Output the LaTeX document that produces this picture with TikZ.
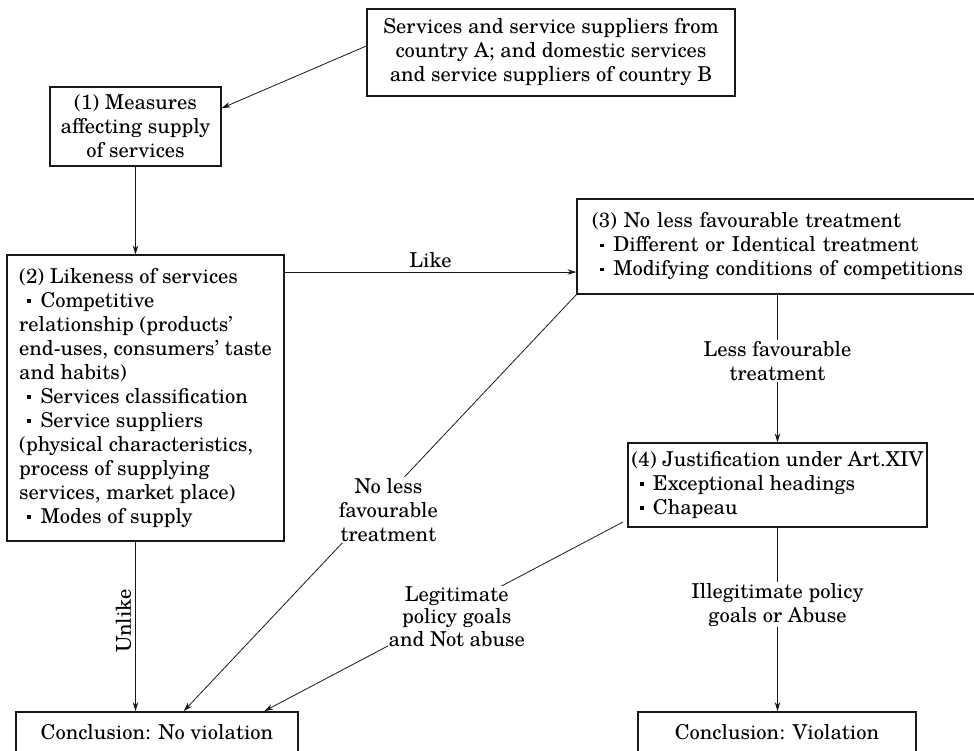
\documentclass[tikz,border=0pt]{standalone}
\usepackage{fontspec}
\setmainfont{texgyreschola}[Extension=.otf, UprightFont=*-regular, BoldFont=*-bold, ItalicFont=*-italic, BoldItalicFont=*-bolditalic]
\usetikzlibrary{arrows.meta}
\newcommand\bul{\hspace*{0.4em}\rule[0.22em]{0.19em}{0.19em}\hspace{0.45em}}
\begin{document}
\begin{tikzpicture}[x=1pt,y=-1pt,
  every node/.style={font=\fontsize{20.5}{24}\selectfont, text=black},
  box/.style={draw=black!90, line width=1.1pt, inner sep=0pt, align=center},
  thickbox/.style={box, line width=1.7pt},
  conn/.style={draw=black!90, line width=0.8pt},
  arr/.style={conn, -{Stealth[length=9pt,width=5.5pt]}},
  lbl/.style={fill=white, inner sep=1pt, align=center}]
\useasboundingbox (0,0) rectangle (974,750);
\clip (0,0) rectangle (974,750);

% boxes
\node[thickbox, minimum width=368pt, minimum height=87pt] (A) at (551,52.5)
  {Services and service suppliers from\\country A; and domestic services\\and service suppliers of country B};
\node[box, minimum width=171pt, minimum height=79pt] (b1) at (135.5,126.5)
  {(1) Measures\\affecting supply\\of services};
\node[box, minimum width=277pt, minimum height=286pt, align=left] (b2) at (145.5,398)
  {(2) Likeness of services\\
   \bul Competitive\\
   relationship (products’\\
   end-uses, consumers’ taste\\
   and habits)\\
   \bul Services classification\\
   \bul Service suppliers\\
   (physical characteristics,\\
   process of supplying\\
   services, market place)\\
   \bul Modes of supply};
\node[box, inner xsep=15pt, text width=385pt, minimum height=95pt, align=left] (b3) at (784.5,246.5)
  {(3) No less favourable treatment\\
   \bul Different or Identical treatment\\
   \bul Modifying conditions of competitions};
\node[box, minimum width=299pt, minimum height=84pt, align=left] (b4) at (777.5,485)
  {(4) Justification under Art.XIV\\
   \bul Exceptional headings\\
   \bul Chapeau};
\node[thickbox, minimum width=282pt, minimum height=40pt] (c1) at (157,732)
  {Conclusion: No violation};
\node[thickbox, minimum width=278pt, minimum height=40pt] (c2) at (777,732)
  {Conclusion: Violation};

% connectors
\draw[arr] (A.178.29) -- (b1.12.21);
\draw[arr] (b1.south) -- (b1.south |- b2.north);
\draw[arr] (b2.east |- b3.187.28) -- node[above=1pt] (like) {Like} (b3.187.28);
\draw[arr] (b4.north |- b3.south) -- node[lbl, pos=0.45] (lft) {Less favourable\\treatment} (b4.north);
\draw[arr] (b3.193.86) -- node[lbl, pos=0.517, xshift=15pt] (nlf) {No less\\favourable\\treatment} (c1.38.66);
\draw[arr, shorten <=5pt] (b4.193.9) -- node[lbl, pos=0.47, yshift=-7pt, font=\fontsize{20.5}{22.5}\selectfont] (leg) {Legitimate\\policy goals\\and Not abuse} (c1.11);
\draw[arr] (b4.south) -- node[lbl, pos=0.42] (ill) {Illegitimate policy\\goals or Abuse} (b4.south |- c2.north);
\draw[arr] (b1.south |- b2.south) -- node[pos=0.47, rotate=90, anchor=south, inner sep=4pt] (unl) {Unlike} (b1.south |- c1.north);
\end{tikzpicture}
\end{document}
